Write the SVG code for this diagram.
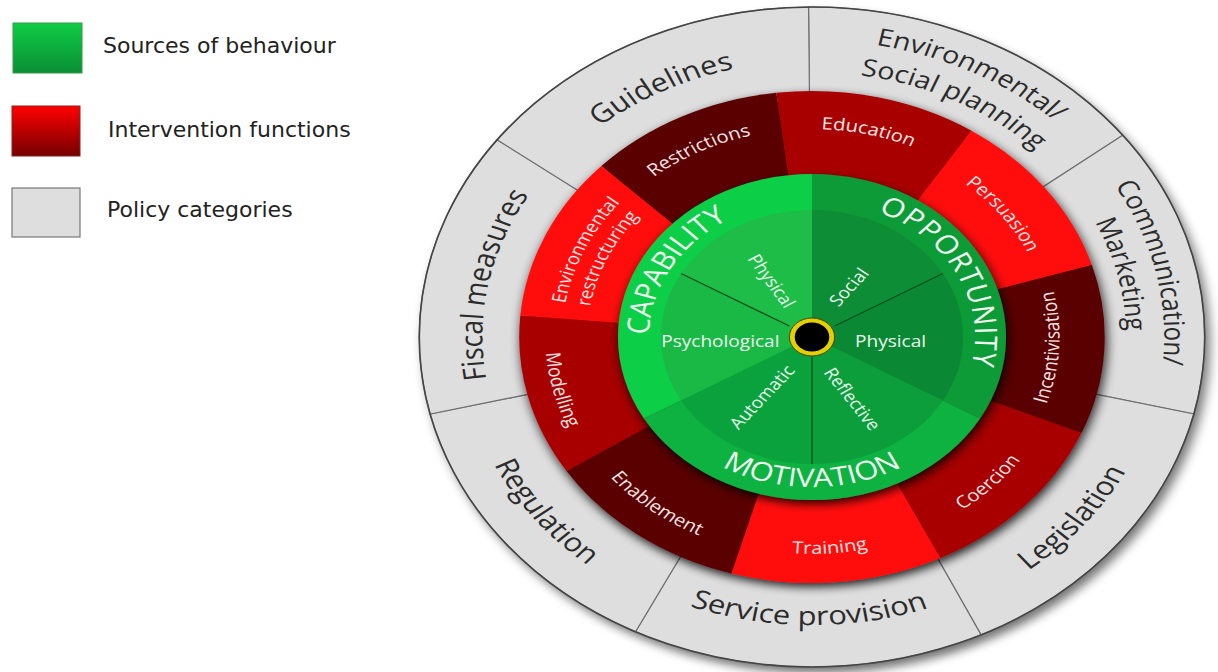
<svg xmlns="http://www.w3.org/2000/svg" xmlns:xlink="http://www.w3.org/1999/xlink" width="1218" height="672" viewBox="0 0 1218 672">
<style>
.legend{font-family:"DejaVu Sans",Verdana,sans-serif;font-size:22px;fill:#222}
.pol{font-family:"Open Sans","DejaVu Sans",sans-serif;font-size:26px;fill:#2b2b2b}
.pol2{font-family:"Open Sans","DejaVu Sans",sans-serif;font-size:24px;fill:#2b2b2b}
.int{font-family:"Open Sans","DejaVu Sans",sans-serif;font-size:17px;fill:#f8e6e6}
.int2{font-family:"Open Sans","DejaVu Sans",sans-serif;font-size:16.5px;fill:#f8e6e6}
.src{font-family:"Open Sans","DejaVu Sans",sans-serif;font-size:26px;fill:#f0fff2}
.sub{font-family:"Open Sans","DejaVu Sans",sans-serif;font-size:16px;fill:#eafff0}
.gseg{fill:#dedede;stroke:#707070;stroke-width:1.2;vector-effect:non-scaling-stroke}
.dl{stroke:#0b4d1c;stroke-width:1.3;vector-effect:non-scaling-stroke}
.dark{fill:#5a0000}
.med{fill:#a80000}
.bright{fill:#ff0a0a}
</style>
<defs>
<linearGradient id="lgG" x1="0" y1="0" x2="0" y2="1"><stop offset="0" stop-color="#0fcc45"/><stop offset="1" stop-color="#0a8f35"/></linearGradient>
<linearGradient id="lgR" x1="0" y1="0" x2="0" y2="1"><stop offset="0" stop-color="#ff0000"/><stop offset="1" stop-color="#750000"/></linearGradient>
<filter id="shOuter" x="-20%" y="-20%" width="140%" height="140%">
<feGaussianBlur in="SourceAlpha" stdDeviation="5"/><feOffset dx="4" dy="6"/>
<feComponentTransfer><feFuncA type="linear" slope="0.55"/></feComponentTransfer>
<feMerge><feMergeNode/><feMergeNode in="SourceGraphic"/></feMerge></filter>
<filter id="shRing" x="-20%" y="-20%" width="140%" height="140%">
<feGaussianBlur in="SourceAlpha" stdDeviation="5"/><feOffset dx="2" dy="4"/>
<feComponentTransfer><feFuncA type="linear" slope="0.85"/></feComponentTransfer>
<feMerge><feMergeNode/><feMergeNode in="SourceGraphic"/></feMerge></filter>
<path id="tGuide" d="M-273.9,33.6 A276,276 0 0 1 188.2,-201.9"/>
<path id="tEnv1" d="M-202.6,-217.2 A297,297 0 0 1 294.8,36.2"/>
<path id="tEnv2" d="M-180.7,-193.8 A265,265 0 0 1 263.0,32.3"/>
<path id="tCom1" d="M37.6,-293.6 A296,296 0 0 1 159.9,249.1"/>
<path id="tCom2" d="M29.4,-262.4 A264,264 0 0 1 146.1,219.9"/>
<path id="tLeg" d="M-98.8,279.0 A296,296 0 0 0 255.0,-150.2"/>
<path id="tServ" d="M-271.5,96.1 A288,288 0 0 0 269.8,100.9"/>
<path id="tReg" d="M-251.0,-156.9 A296,296 0 0 0 91.5,281.5"/>
<path id="tFis" d="M-142.7,237.4 A277,277 0 0 1 -43.3,-273.6"/>
<path id="tRes" d="M-206.4,25.3 A208,208 0 0 1 141.9,-152.1"/>
<path id="tEdu" d="M-174.4,-113.3 A208,208 0 0 1 206.4,-25.4"/>
<path id="tPer" d="M-60.1,-190.7 A200,200 0 0 1 168.7,107.5"/>
<path id="tInc" d="M60.8,198.9 A208,208 0 0 0 81.3,-191.5"/>
<path id="tCoe" d="M-88.7,194.7 A214,214 0 0 0 193.2,-92.1"/>
<path id="tTra" d="M-198.2,88.3 A217,217 0 0 0 208.6,59.8"/>
<path id="tEna" d="M-209.2,-68.0 A220,220 0 0 0 116.6,186.6"/>
<path id="tMod" d="M-125.3,-185.7 A224,224 0 0 0 -23.4,222.8"/>
<path id="tEr1" d="M-147.2,149.8 A210,210 0 0 1 16.5,-209.3"/>
<path id="tEr2" d="M-132.5,134.8 A189,189 0 0 1 14.8,-188.4"/>
<path id="tCap" d="M-104.9,88.1 A137,137 0 0 1 23.8,-134.9"/>
<path id="tOpp" d="M-16.7,-136.0 A137,137 0 0 1 100.2,93.4"/>
<path id="tMot" d="M-141.0,51.3 A150,150 0 0 0 141.0,51.3"/>
</defs>

<g id="legend">
<g id="legend-sources"><rect x="13" y="23" width="69" height="50" fill="url(#lgG)" stroke="#3a9a4a" stroke-width="1"/><text class="legend" x="103" y="53">Sources of behaviour</text></g>
<g id="legend-interventions"><rect x="12" y="106" width="68" height="50" fill="url(#lgR)" stroke="#8a2020" stroke-width="1"/><text class="legend" x="108" y="137">Intervention functions</text></g>
<g id="legend-policy"><rect x="12" y="188" width="68" height="49" fill="#dedede" stroke="#777" stroke-width="1.2"/><text class="legend" x="107" y="217">Policy categories</text></g>
</g>

<g id="wheel" transform="translate(812,337) scale(1.19,1)">
<circle cx="0" cy="0" r="330" fill="#dedede" filter="url(#shOuter)"/>
<g id="policy">
<g id="env-social-planning"><path class="gseg" d="M0,0 L-2.9,-330 A330,330 0 0 1 261.1,-201.8 Z"/>
<text class="pol2"><textPath href="#tEnv1" xlink:href="#tEnv1" startOffset="50%" text-anchor="middle">Environmental/</textPath></text>
<text class="pol2"><textPath href="#tEnv2" xlink:href="#tEnv2" startOffset="50%" text-anchor="middle">Social planning</textPath></text></g>
<g id="communication-marketing"><path class="gseg" d="M0,0 L261.1,-201.8 A330,330 0 0 1 320.9,77.0 Z"/>
<text class="pol2"><textPath href="#tCom1" xlink:href="#tCom1" startOffset="50%" text-anchor="middle">Communication/</textPath></text>
<text class="pol2"><textPath href="#tCom2" xlink:href="#tCom2" startOffset="50%" text-anchor="middle">Marketing</textPath></text></g>
<g id="legislation"><path class="gseg" d="M0,0 L320.9,77.0 A330,330 0 0 1 142.1,297.9 Z"/>
<text class="pol"><textPath href="#tLeg" xlink:href="#tLeg" startOffset="50%" text-anchor="middle">Legislation</textPath></text></g>
<g id="service-provision"><path class="gseg" d="M0,0 L142.1,297.9 A330,330 0 0 1 -148.3,294.8 Z"/>
<text class="pol"><textPath href="#tServ" xlink:href="#tServ" startOffset="50%" text-anchor="middle">Service provision</textPath></text></g>
<g id="regulation"><path class="gseg" d="M0,0 L-148.3,294.8 A330,330 0 0 1 -320.9,77.0 Z"/>
<text class="pol"><textPath href="#tReg" xlink:href="#tReg" startOffset="50%" text-anchor="middle">Regulation</textPath></text></g>
<g id="fiscal-measures"><path class="gseg" d="M0,0 L-320.9,77.0 A330,330 0 0 1 -264.6,-197.2 Z"/>
<text class="pol"><textPath href="#tFis" xlink:href="#tFis" startOffset="50%" text-anchor="middle">Fiscal measures</textPath></text></g>
<g id="guidelines"><path class="gseg" d="M0,0 L-264.6,-197.2 A330,330 0 0 1 -2.9,-330 Z"/>
<text class="pol"><textPath href="#tGuide" xlink:href="#tGuide" startOffset="50%" text-anchor="middle">Guidelines</textPath></text></g>
<circle cx="0" cy="0" r="330" fill="none" stroke="#454545" stroke-width="1.6" vector-effect="non-scaling-stroke"/>
</g>

<g id="interventions">
<g filter="url(#shRing)">
<path class="dark" d="M0,0 L-177.0,-170.9 A246,246 0 0 1 -30.0,-244.2 Z"/>
<path class="med" d="M0,0 L-30.0,-244.2 A246,246 0 0 1 134.0,-206.3 Z"/>
<path class="bright" d="M0,0 L134.0,-206.3 A246,246 0 0 1 235.2,-71.9 Z"/>
<path class="dark" d="M0,0 L235.2,-71.9 A246,246 0 0 1 226.4,96.1 Z"/>
<path class="med" d="M0,0 L226.4,96.1 A246,246 0 0 1 107.8,221.1 Z"/>
<path class="bright" d="M0,0 L107.8,221.1 A246,246 0 0 1 -67.8,236.5 Z"/>
<path class="dark" d="M0,0 L-67.8,236.5 A246,246 0 0 1 -206.3,134.0 Z"/>
<path class="med" d="M0,0 L-206.3,134.0 A246,246 0 0 1 -245.1,-21.4 Z"/>
<path class="bright" d="M0,0 L-245.1,-21.4 A246,246 0 0 1 -177.0,-170.9 Z"/>
</g>
<g id="restrictions"><text class="int"><textPath href="#tRes" xlink:href="#tRes" startOffset="50%" text-anchor="middle">Restrictions</textPath></text></g>
<g id="education"><text class="int"><textPath href="#tEdu" xlink:href="#tEdu" startOffset="50%" text-anchor="middle">Education</textPath></text></g>
<g id="persuasion"><text class="int"><textPath href="#tPer" xlink:href="#tPer" startOffset="50%" text-anchor="middle">Persuasion</textPath></text></g>
<g id="incentivisation"><text class="int"><textPath href="#tInc" xlink:href="#tInc" startOffset="50%" text-anchor="middle">Incentivisation</textPath></text></g>
<g id="coercion"><text class="int"><textPath href="#tCoe" xlink:href="#tCoe" startOffset="50%" text-anchor="middle">Coercion</textPath></text></g>
<g id="training"><text class="int"><textPath href="#tTra" xlink:href="#tTra" startOffset="50%" text-anchor="middle">Training</textPath></text></g>
<g id="enablement"><text class="int"><textPath href="#tEna" xlink:href="#tEna" startOffset="50%" text-anchor="middle">Enablement</textPath></text></g>
<g id="modelling"><text class="int"><textPath href="#tMod" xlink:href="#tMod" startOffset="50%" text-anchor="middle">Modelling</textPath></text></g>
<g id="environmental-restructuring"><text class="int2"><textPath href="#tEr1" xlink:href="#tEr1" startOffset="50%" text-anchor="middle">Environmental</textPath></text>
<text class="int2"><textPath href="#tEr2" xlink:href="#tEr2" startOffset="50%" text-anchor="middle">restructuring</textPath></text></g>
</g>

<g id="sources">
<g filter="url(#shRing)">
<path fill="#0ccf46" d="M0,0 L-141.2,81.5 A163,163 0 0 1 0,-163 Z"/>
<path fill="#0b9b39" d="M0,0 L0,-163 A163,163 0 0 1 141.2,81.5 Z"/>
<path fill="#0bb241" d="M0,0 L141.2,81.5 A163,163 0 0 1 -141.2,81.5 Z"/>
</g>
<g id="capability">
<path fill="#1ebd48" d="M0,0 L-110,-63.5 A127,127 0 0 1 0,-127 Z"/>
<path fill="#1ab845" d="M0,0 L-110,63.5 A127,127 0 0 1 -110,-63.5 Z"/>
<text class="src"><textPath href="#tCap" xlink:href="#tCap" startOffset="50%" text-anchor="middle">CAPABILITY</textPath></text>
<text class="sub" text-anchor="middle" transform="translate(-34,-56) rotate(58)" dy="0.35em">Physical</text>
<text class="sub" text-anchor="middle" transform="translate(-77,4)" dy="0.35em">Psychological</text>
</g>
<g id="opportunity">
<path fill="#0d8e36" d="M0,0 L0,-127 A127,127 0 0 1 110,-63.5 Z"/>
<path fill="#0a8833" d="M0,0 L110,-63.5 A127,127 0 0 1 110,63.5 Z"/>
<text class="src" letter-spacing="1"><textPath href="#tOpp" xlink:href="#tOpp" startOffset="50%" text-anchor="middle">OPPORTUNITY</textPath></text>
<text class="sub" text-anchor="middle" transform="translate(31,-50) rotate(-52)" dy="0.35em">Social</text>
<text class="sub" text-anchor="middle" transform="translate(66,4)" dy="0.35em">Physical</text>
</g>
<g id="motivation">
<path fill="#0b9e3b" d="M0,0 L110,63.5 A127,127 0 0 1 0,127 Z"/>
<path fill="#0aa23c" d="M0,0 L0,127 A127,127 0 0 1 -110,63.5 Z"/>
<text class="src"><textPath href="#tMot" xlink:href="#tMot" startOffset="50%" text-anchor="middle">MOTIVATION</textPath></text>
<text class="sub" text-anchor="middle" transform="translate(34,62) rotate(56)" dy="0.35em">Reflective</text>
<text class="sub" text-anchor="middle" transform="translate(-42,60) rotate(-51)" dy="0.35em">Automatic</text>
</g>
<g id="dividers">
<line class="dl" x1="-19" y1="-11" x2="-110" y2="-63.5"/>
<line class="dl" x1="19" y1="-11" x2="110" y2="-63.5"/>
<line class="dl" x1="0" y1="20" x2="0" y2="127"/>
</g>
<g id="hub">
<circle cx="0" cy="0" r="19" fill="#e3d000" stroke="#4a4200" stroke-width="1" vector-effect="non-scaling-stroke"/>
<circle cx="0" cy="0" r="14.5" fill="#000"/>
</g>
</g>
</g>
</svg>
